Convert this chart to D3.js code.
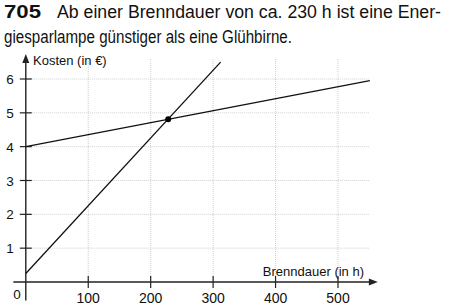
<!DOCTYPE html>
<html>
<head>
<meta charset="utf-8">
<script src="https://cdn.jsdelivr.net/npm/d3@7"></script>
<style>
  body { margin: 0; background: #fff; }
  svg { display: block; font-family: "Liberation Sans", Arial, sans-serif; }
</style>
</head>
<body>
<div id="chart"></div>
<script>
// chart data
var hourTicks = [100, 200, 300, 400, 500]
var costTicks = [1, 2, 3, 4, 5, 6]
var energySaver = [[0, 4], [551, 5.95]]   // Energiesparlampe
var bulb = [[0, 0.25], [312, 6.5]]        // Glühbirne
var breakEven = [[228, 4.81]]

var width = 449, height = 306

var svg = d3.select("#chart").append("svg")
  .attr("width", width).attr("height", height)

var x = d3.scaleLinear().domain([0, 500]).range([25.8, 338])
var y = d3.scaleLinear().domain([0, 6]).range([282, 79])

// heading
var head = svg.append("g").attr("fill", "#111")
head.append("text").attr("x", 4).attr("y", 18)
  .attr("font-size", 18).attr("font-weight", "bold")
  .attr("textLength", 37).attr("lengthAdjust", "spacingAndGlyphs")
  .text("705")
head.append("text").attr("x", 57).attr("y", 18)
  .attr("font-size", 17.5)
  .attr("textLength", 384).attr("lengthAdjust", "spacingAndGlyphs")
  .text("Ab einer Brenndauer von ca. 230 h ist eine Ener-")
head.append("text").attr("x", 4).attr("y", 43)
  .attr("font-size", 17.5)
  .attr("textLength", 288).attr("lengthAdjust", "spacingAndGlyphs")
  .text("giesparlampe günstiger als eine Glühbirne.")

// grid
var grid = svg.append("g")
  .attr("stroke", "#cfcfcf").attr("stroke-width", 1)
  .attr("stroke-dasharray", "1,1")
grid.selectAll("line.v").data(hourTicks).enter().append("line")
  .attr("x1", d => x(d)).attr("x2", d => x(d))
  .attr("y1", y(0)).attr("y2", y(6.6))
grid.selectAll("line.h").data(costTicks).enter().append("line")
  .attr("x1", x(0)).attr("x2", x(551))
  .attr("y1", d => y(d)).attr("y2", d => y(d))

// axes
var axisColor = "#222"
svg.append("line")
  .attr("x1", x(-20)).attr("x2", x(551))
  .attr("y1", y(0)).attr("y2", y(0))
  .attr("stroke", axisColor).attr("stroke-width", 1.4)
svg.append("path")
  .attr("d", `M${x(551) + 8},${y(0)} L${x(551) - 1},${y(0) - 3.5} L${x(551) - 1},${y(0) + 3.5}Z`)
  .attr("fill", axisColor)
svg.append("line")
  .attr("x1", x(0)).attr("x2", x(0))
  .attr("y1", y(-0.55)).attr("y2", y(6.5))
  .attr("stroke", axisColor).attr("stroke-width", 1.4)
svg.append("path")
  .attr("d", `M${x(0)},${y(6.5) - 8} L${x(0) - 3.5},${y(6.5) + 1} L${x(0) + 3.5},${y(6.5) + 1}Z`)
  .attr("fill", axisColor)

// ticks
svg.append("g").selectAll("line").data(hourTicks).enter().append("line")
  .attr("x1", d => x(d)).attr("x2", d => x(d))
  .attr("y1", y(0) - 6).attr("y2", y(0) + 6)
  .attr("stroke", axisColor).attr("stroke-width", 1.2)
svg.append("g").selectAll("line").data(costTicks).enter().append("line")
  .attr("x1", x(0) - 6).attr("x2", x(0) + 6)
  .attr("y1", d => y(d)).attr("y2", d => y(d))
  .attr("stroke", axisColor).attr("stroke-width", 1.2)

// tick labels
svg.append("g").attr("font-size", 14).attr("fill", "#111")
  .attr("text-anchor", "middle")
  .selectAll("text").data(hourTicks).enter().append("text")
  .attr("x", d => x(d)).attr("y", 303)
  .text(d => d)
svg.append("g").attr("font-size", 13.5).attr("fill", "#111")
  .attr("text-anchor", "middle")
  .selectAll("text").data(costTicks).enter().append("text")
  .attr("x", 10).attr("y", d => y(d) + 5)
  .text(d => d)
svg.append("text").attr("x", 17).attr("y", 299)
  .attr("font-size", 13.5).attr("text-anchor", "middle").attr("fill", "#111")
  .text("0")

// axis titles
svg.append("text").attr("x", 33).attr("y", 65)
  .attr("font-size", 13).attr("fill", "#111")
  .text("Kosten (in €)")
svg.append("text").attr("x", 364).attr("y", 276)
  .attr("font-size", 13).attr("fill", "#111").attr("text-anchor", "end")
  .text("Brenndauer (in h)")

// series
var line = d3.line().x(d => x(d[0])).y(d => y(d[1]))
svg.append("path").datum(energySaver).attr("d", line)
  .attr("fill", "none").attr("stroke", "#111").attr("stroke-width", 1.3)
svg.append("path").datum(bulb).attr("d", line)
  .attr("fill", "none").attr("stroke", "#111").attr("stroke-width", 1.3)
svg.selectAll("circle.pt").data(breakEven).enter().append("circle")
  .attr("cx", d => x(d[0])).attr("cy", d => y(d[1])).attr("r", 3)
  .attr("fill", "#000")
</script>
</body>
</html>
